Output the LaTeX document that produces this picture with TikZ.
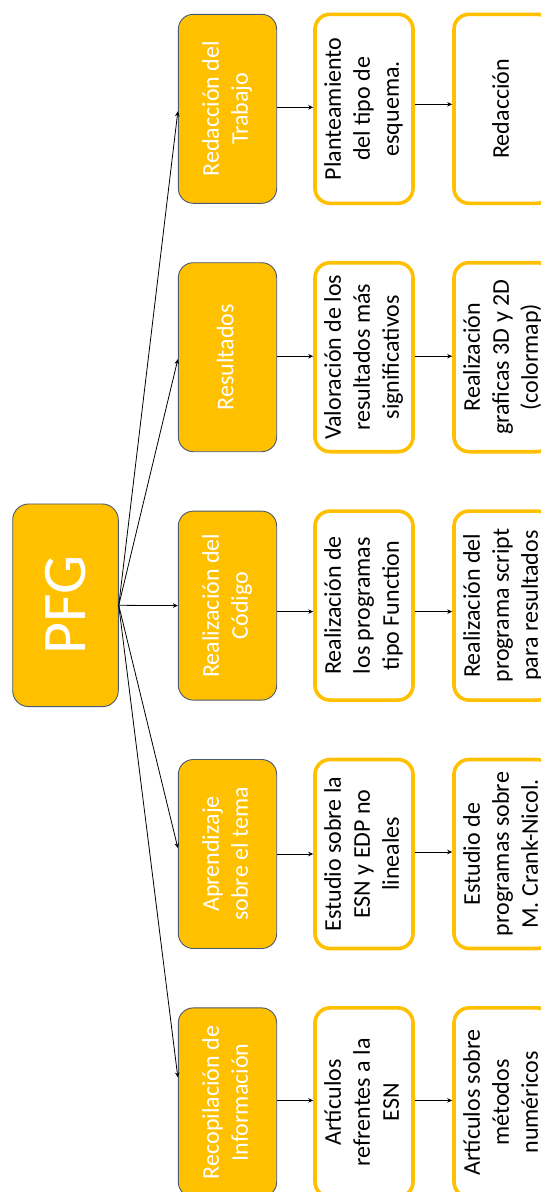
\documentclass[tikz,border=0pt]{standalone}
\usepackage{fontspec}
\setmainfont{Carlito}
\usepackage{graphicx}
\usetikzlibrary{arrows.meta}
\definecolor{gold}{HTML}{FFC000}
\definecolor{slate}{HTML}{4A5A70}
\newcommand\rtext[1]{\rotatebox{90}{\begin{tabular}{@{}c@{}}#1\end{tabular}}}
\tikzset{
  obox/.style={draw=slate, line width=0.9pt, fill=gold, rounded corners=15pt,
    minimum width=98.4pt, minimum height=189pt, inner sep=0pt, text=white,
    font=\fontsize{24}{29}\selectfont},
  wbox/.style={draw=gold, line width=3.6pt, fill=white, rounded corners=15pt,
    minimum width=98pt, minimum height=189pt, inner sep=0pt, text=black,
    font=\fontsize{24}{29}\selectfont},
  pbox/.style={draw=slate, line width=0.9pt, fill=gold, rounded corners=16pt,
    minimum width=105.6pt, minimum height=202.7pt, inner sep=0pt, text=white,
    font=\fontsize{62}{70}\selectfont},
  arr/.style={draw=black, line width=0.8pt, -{Stealth[length=5pt,width=4.5pt]}},
}
\begin{document}
\begin{tikzpicture}
\useasboundingbox (0pt,0pt) rectangle (541pt,-1192pt);
\node[pbox] (pfg) at (65.5pt,-605.3pt) {\rotatebox{90}{PFG}};
% row 1
\node[obox] (r1) at (227.5pt,-108.8pt) {\rtext{Redacción del\\Trabajo}};
\node[wbox] (a1) at (364pt,-108.8pt) {\rtext{Planteamiento\\del tipo de\\esquema.}};
\node[wbox] (b1) at (503pt,-108.8pt) {\rtext{Redacción}};
% row 2
\node[obox] (r2) at (227.5pt,-357.2pt) {\rtext{Resultados}};
\node[wbox] (a2) at (364pt,-357.2pt) {\rtext{Valoración de los\\resultados más\\significativos}};
\node[wbox] (b2) at (503pt,-357.2pt) {\rtext{Realización\\graficas 3D y 2D\\(colormap)}};
% row 3
\node[obox] (r3) at (227.5pt,-605.6pt) {\rtext{Realización del\\Código}};
\node[wbox] (a3) at (364pt,-605.6pt) {\rtext{Realización de\\los programas\\tipo Function}};
\node[wbox] (b3) at (503pt,-605.6pt) {\rtext{Realización del\\programa script\\para resultados}};
% row 4
\node[obox] (r4) at (227.5pt,-854pt) {\rtext{Aprendizaje\\sobre el tema}};
\node[wbox] (a4) at (364pt,-854pt) {\rtext{Estudio sobre la\\ESN y EDP no\\lineales}};
\node[wbox] (b4) at (503pt,-854pt) {\rtext{Estudio de\\programas sobre\\M. Crank-Nicol.}};
% row 5
\node[obox] (r5) at (227.5pt,-1102.4pt) {\rtext{Recopilación de\\Información}};
\node[wbox] (a5) at (364pt,-1102.4pt) {\rtext{Artículos\\refrentes a la\\ESN}};
\node[wbox] (b5) at (503pt,-1102.4pt) {\rtext{Artículos sobre\\métodos\\numéricos}};
% connectors from PFG
\draw[arr] (pfg.east) -- ([yshift=-2.5pt]r1.west);
\draw[arr] (pfg.east) -- ([yshift=-2pt]r2.west);
\draw[arr] (pfg.east) -- (r3.west);
\draw[arr] (pfg.east) -- ([yshift=6pt]r4.west);
\draw[arr] (pfg.east) -- ([yshift=25pt]r5.west);
% row connectors
\draw[arr] ([yshift=1.5pt]r1.east) -- ([yshift=1.5pt]a1.west);
\draw[arr] ([yshift=4.5pt]a1.east) -- ([yshift=4.5pt]b1.west);
\draw[arr] ([yshift=1pt]r2.east) -- ([yshift=1pt]a2.west);
\draw[arr] ([yshift=1pt]a2.east) -- ([yshift=1pt]b2.west);
\draw[arr] ([yshift=-6pt]r3.east) -- ([yshift=-6pt]a3.west);
\draw[arr] ([yshift=-6pt]a3.east) -- ([yshift=-6pt]b3.west);
\draw[arr] (r4.east) -- (a4.west);
\draw[arr] ([yshift=2pt]a4.east) -- ([yshift=2pt]b4.west);
\draw[arr] ([yshift=2pt]r5.east) -- ([yshift=2pt]a5.west);
\draw[arr] ([yshift=2pt]a5.east) -- ([yshift=2pt]b5.west);
\end{tikzpicture}
\end{document}
